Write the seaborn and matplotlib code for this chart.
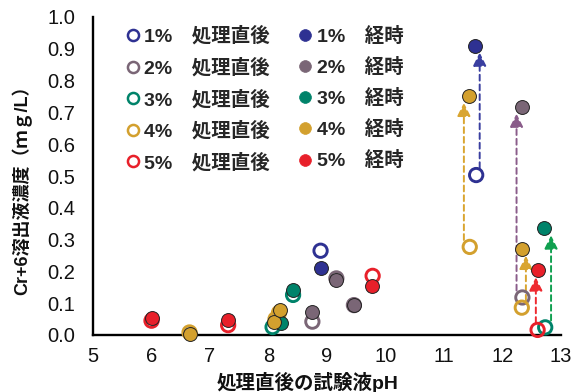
import matplotlib
matplotlib.use("Agg")
import matplotlib.pyplot as plt
from matplotlib.lines import Line2D
import pandas as pd
import seaborn as sns

# Series (addition rate) and their colours
series = ["1%", "2%", "3%", "4%", "5%"]
series_colors = ["#2E3192", "#7A6676", "#00836A", "#D3A02E", "#E8202A"]
arrow_colors = ["#3A3FA0", "#8A5C8A", "#10A050", "#D9A530", "#EE2A30"]

# Concentration right after treatment (open circles)
open_series = ["1%", "1%",
               "2%", "2%", "2%", "2%",
               "3%", "3%", "3%",
               "4%", "4%", "4%", "4%", "4%",
               "5%", "5%", "5%", "5%"]
open_ph = [8.89, 11.55,
           8.75, 9.16, 9.46, 12.34,
           8.07, 8.42, 12.73,
           6.65, 8.12, 8.18, 11.44, 12.33,
           6.00, 7.31, 9.78, 12.60]
open_conc = [0.265, 0.503,
             0.042, 0.178, 0.094, 0.118,
             0.025, 0.126, 0.024,
             0.008, 0.050, 0.070, 0.277, 0.086,
             0.045, 0.031, 0.186, 0.016]

# Concentration after ageing (filled circles)
aged_series = ["1%", "1%",
               "2%", "2%", "2%", "2%",
               "3%", "3%", "3%",
               "4%", "4%", "4%", "4%", "4%",
               "5%", "5%", "5%", "5%"]
aged_ph = [8.89, 11.53,
           8.74, 9.15, 9.46, 12.34,
           8.22, 8.42, 12.71,
           6.65, 8.10, 8.19, 11.43, 12.33,
           6.00, 7.31, 9.77, 12.60]
aged_conc = [0.210, 0.910,
             0.072, 0.173, 0.094, 0.718,
             0.038, 0.141, 0.335,
             0.003, 0.042, 0.079, 0.752, 0.271,
             0.052, 0.047, 0.155, 0.203]

# Change arrows (from right-after-treatment to aged)
arrow_series = ["1%", "4%", "2%", "4%", "5%", "3%"]
arrow_ph = [11.61, 11.34, 12.24, 12.40, 12.57, 12.83]
arrow_from = [0.503, 0.277, 0.118, 0.086, 0.016, 0.024]
arrow_to = [0.910, 0.752, 0.718, 0.271, 0.203, 0.335]

x_ticks = [5, 6, 7, 8, 9, 10, 11, 12, 13]
y_ticks = [0.0, 0.1, 0.2, 0.3, 0.4, 0.5, 0.6, 0.7, 0.8, 0.9, 1.0]

x_label = "処理直後の試験液pH"
y_label = "Cr+6溶出液濃度（ｍｇ/L）"
open_suffix = "処理直後"
aged_suffix = "経時"

sns.set_theme(style="white")
plt.rcParams["font.family"] = ["Liberation Sans", "Noto Sans CJK JP", "DejaVu Sans"]

open_df = pd.DataFrame({"pH": open_ph, "conc": open_conc, "series": open_series})
aged_df = pd.DataFrame({"pH": aged_ph, "conc": aged_conc, "series": aged_series})
palette = dict(zip(series, series_colors))
arrow_palette = dict(zip(series, arrow_colors))

fig = plt.figure(figsize=(5.78, 3.92), dpi=100)
ax = fig.add_axes([93 / 578, 1 - 335 / 392, 468 / 578, 318 / 392])

# dashed change arrows underneath the markers
for s, xa, y0, y1 in zip(arrow_series, arrow_ph, arrow_from, arrow_to):
    ax.annotate("", xy=(xa, y1), xytext=(xa, y0),
                arrowprops=dict(arrowstyle="-|>", color=arrow_palette[s],
                                lw=1.4, linestyle=(0, (3, 2)),
                                mutation_scale=20, shrinkA=5, shrinkB=5),
                zorder=2)

for s in series:
    sub = open_df[open_df["series"] == s]
    sns.scatterplot(data=sub, x="pH", y="conc", ax=ax, s=92,
                    facecolor="none", edgecolor=palette[s], linewidth=2.1,
                    zorder=3, clip_on=False, legend=False)
for s in series:
    sub = aged_df[aged_df["series"] == s]
    sns.scatterplot(data=sub, x="pH", y="conc", ax=ax, s=100,
                    color=palette[s], edgecolor="#222222", linewidth=0.7,
                    zorder=4, clip_on=False, legend=False)

ax.set_xlim(x_ticks[0], x_ticks[-1])
ax.set_ylim(y_ticks[0], y_ticks[-1])
ax.set_xticks(x_ticks)
ax.set_yticks(y_ticks)
ax.set_yticklabels([f"{v:.1f}" for v in y_ticks])

for side in ["top", "right"]:
    ax.spines[side].set_visible(False)
for side in ["left", "bottom"]:
    ax.spines[side].set_linewidth(1.7)
    ax.spines[side].set_color("black")
ax.tick_params(axis="both", direction="in", length=4, width=1.6,
               color="black", labelsize=14.5, labelcolor="#111111")
ax.tick_params(axis="y", pad=13)
ax.tick_params(axis="x", pad=9)

ax.set_xlabel(x_label, fontsize=14, fontweight="bold", color="#111111")
ax.set_ylabel(y_label, fontsize=13, fontweight="bold", color="#111111")
ax.xaxis.set_label_coords(0.459, -0.115)
ax.yaxis.set_label_coords(-0.13, 0.47)

handles, labels = [], []
for s, c in zip(series, series_colors):
    handles.append(Line2D([], [], ls="none", marker="o", ms=8,
                          mfc="none", mec=c, mew=1.8))
    labels.append(f"{s}　{open_suffix}")
for s, c in zip(series, series_colors):
    handles.append(Line2D([], [], ls="none", marker="o", ms=8.5,
                          mfc=c, mec=c, mew=0.5))
    labels.append(f"{s}　{aged_suffix}")
ax.legend(handles, labels, ncol=2, loc="upper left",
          bbox_to_anchor=(0.068, 0.97), frameon=False,
          prop={"size": 14, "weight": "bold"},
          handlelength=0.8, handletextpad=0.2, columnspacing=1.4,
          labelspacing=0.62, borderpad=0, borderaxespad=0)

fig.savefig("out.png", dpi=100)
